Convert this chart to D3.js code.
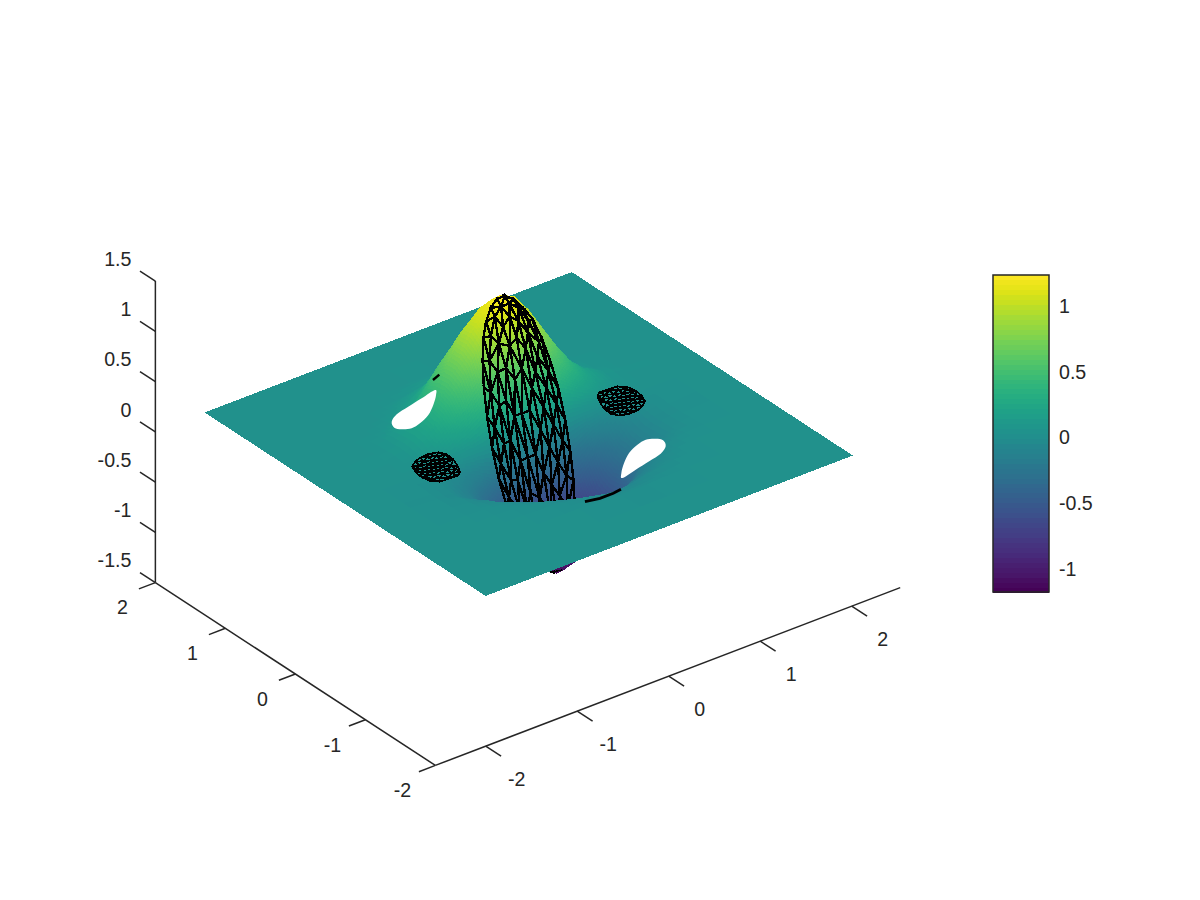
<!DOCTYPE html>
<html>
<head>
<meta charset="utf-8">
<script src="https://cdn.jsdelivr.net/npm/d3@7"></script>
<style>
  body { margin: 0; background: #fff; }
  text { font-family: "Liberation Sans", sans-serif; font-size: 19.6px; fill: #262626; }
</style>
</head>
<body>
<div id="chart"></div>
<script>
// surface heights, half sheet y>=0
// (the other half is the same sheet turned through the origin with the sign flipped)
const gridX = [-2, -1.6, -1.3, -1.1, -.9, -.75, -.6, -.45, -.3, -.15, 0, .15, .3, .45, .6, .75, .9, 1.1, 1.3, 1.6, 2];
const gridY = [0, .1, .2, .3, .4, .5, .6, .7, .8, .95, 1.1, 1.3, 1.6, 2];
const gridZ = [
  [0, 0, 0, 0, 0, 0, 0, 0, 0, 0, 0, 0, 0, 0, 0, 0, 0, 0, 0, 0, 0],
  [0, 0, .01, .02, .06, .12, .19, .29, .38, .45, .48, .45, .38, .29, .19, .12, .06, .02, .01, 0, 0],
  [0, 0, .01, .04, .11, .21, .35, .52, .69, .82, .87, .82, .69, .52, .35, .21, .11, .04, .01, 0, 0],
  [0, 0, .02, .05, .15, .27, .45, .67, .89, 1.05, 1.12, 1.05, .89, .67, .45, .27, .15, .05, .02, 0, 0],
  [0, 0, .02, .06, .16, .29, .49, .72, .95, 1.13, 1.2, 1.13, .95, .72, .49, .29, .16, .06, .02, 0, 0],
  [0, 0, .02, .05, .15, .28, .48, .72, .94, 1.08, 1.12, 1.02, .83, .60, .39, .23, .12, .04, .01, 0, 0],
  [0, 0, .01, .05, .13, .25, .44, .64, .82, .94, .95, .82, .65, .45, .28, .16, .08, .03, .01, 0, 0],
  [0, 0, .01, .03, .09, .18, .34, .52, .66, .73, .73, .60, .45, .31, .18, .10, .05, .02, .01, 0, 0],
  [0, 0, 0, .01, .05, .10, .20, .36, .48, .52, .51, .40, .29, .19, .11, .06, .03, .01, 0, 0, 0],
  [0, 0, 0, 0, .02, .05, .10, .16, .23, .26, .25, .18, .12, .08, .04, .02, .01, 0, 0, 0, 0],
  [0, 0, 0, 0, .01, .02, .04, .06, .09, .11, .10, .07, .04, .03, .01, .01, 0, 0, 0, 0, 0],
  [0, 0, 0, 0, 0, 0, .01, .01, .02, .02, .02, .01, .01, 0, 0, 0, 0, 0, 0, 0, 0],
  [0, 0, 0, 0, 0, 0, 0, 0, 0, 0, 0, 0, 0, 0, 0, 0, 0, 0, 0, 0, 0],
  [0, 0, 0, 0, 0, 0, 0, 0, 0, 0, 0, 0, 0, 0, 0, 0, 0, 0, 0, 0, 0]
];

const xTicks = [-2, -1, 0, 1, 2];
const yTicks = [-2, -1, 0, 1, 2];
const zTicks = [-1.5, -1, -0.5, 0, 0.5, 1, 1.5];
const barTicks = [-1, -0.5, 0, 0.5, 1];
const xLim = [-2.55, 2.53];
const yLim = [-2, 2];
const zLim = [-1.5, 1.5];
const colorLim = [-1.205, 1.205];

// wire mesh on the central disc
const meshRadius = [.4, .34, .27, .2, .13, .06];
const meshCount = [30, 24, 20, 15, 9, 4];

// small mesh patch on the flat sheet, the other one is its mirror through the origin
const patchOutline = [
  [-1.147, .164], [-1.076, .218], [-.999, .247], [-.903, .254], [-.816, .224],
  [-.779, .153], [-.787, .049], [-.824, -.062], [-.871, -.157], [-.925, -.203],
  [-1.010, -.195], [-1.115, -.190], [-1.176, -.128], [-1.194, -.033], [-1.183, .068]
];
const patchGridX = [-1.15, -1.08, -1.01, -.94, -.87, -.8];
const patchGridY = [-.17, -.1, -.03, .04, .11, .18];

// holes in the sheet
const holeOutline = [
  [-.181, 1.102], [-.227, 1.027], [-.351, .904], [-.491, .792], [-.636, .722], [-.746, .697],
  [-.825, .736], [-.859, .797], [-.814, .893], [-.701, .969], [-.542, 1.013], [-.360, 1.058]
];

// bits of hidden mesh poking through the sheet
const sliverA = [[-.09, 1.25], [.01, 1.29]];
const sliverB = [[-.327, -1.231], [-.188, -1.263], [-.043, -1.265], [.052, -1.25]];

const width = 1200, height = 900;
const svg = d3.select("#chart").append("svg")
  .attr("width", width).attr("height", height)
  .style("display", "block");

// oblique projection built from one linear scale per data axis and screen axis
const xToH = d3.scaleLinear().domain([0, 1]).range([0, 91.5]);
const xToV = d3.scaleLinear().domain([0, 1]).range([0, -35]);
const yToH = d3.scaleLinear().domain([0, 1]).range([0, -70]);
const yToV = d3.scaleLinear().domain([0, 1]).range([0, -45.7]);
const zToV = d3.scaleLinear().domain([0, 1]).range([0, -100.5]);
const originH = 528.7, originV = 434;

const project = (x, y, z) => [
  originH + xToH(x) + yToH(y),
  originV + xToV(x) + yToV(y) + zToV(z)
];
const groundDepth = (x, y) => originV + xToV(x) + yToV(y);

const color = d3.scaleSequential(d3.interpolateViridis).domain(colorLim);

function zAt(x, y) {
  if (y < 0) return -zAt(-x, -y);
  const i = Math.max(1, Math.min(d3.bisectRight(gridX, x), gridX.length - 1));
  const j = Math.max(1, Math.min(d3.bisectRight(gridY, y), gridY.length - 1));
  const tx = (x - gridX[i - 1]) / (gridX[i] - gridX[i - 1]);
  const ty = (y - gridY[j - 1]) / (gridY[j] - gridY[j - 1]);
  const low = gridZ[j - 1][i - 1] * (1 - tx) + gridZ[j - 1][i] * tx;
  const high = gridZ[j][i - 1] * (1 - tx) + gridZ[j][i] * tx;
  return low * (1 - ty) + high * ty;
}

// ---- surface cells, split finer where the height changes fast
const allY = [...gridY.slice(1).map(d => -d).reverse(), ...gridY];
const cells = [];
d3.pairs(gridX).forEach(([x0, x1]) => {
  d3.pairs(allY).forEach(([y0, y1]) => {
    const zs = [zAt(x0, y0), zAt(x1, y0), zAt(x0, y1), zAt(x1, y1)];
    const span = d3.max(zs) - d3.min(zs);
    const n = Math.max(1, Math.min(8, Math.ceil(span / .03)));
    for (let a = 0; a < n; a++) {
      for (let b = 0; b < n; b++) {
        const xa = x0 + (x1 - x0) * a / n, xb = x0 + (x1 - x0) * (a + 1) / n;
        const ya = y0 + (y1 - y0) * b / n, yb = y0 + (y1 - y0) * (b + 1) / n;
        const c = [[xa, ya], [xb, ya], [xb, yb], [xa, yb]];
        const cz = c.map(p => zAt(p[0], p[1]));
        cells.push({
          points: c.map((p, k) => project(p[0], p[1], cz[k]).join(",")).join(" "),
          fill: color(d3.mean(cz)),
          depth: groundDepth((xa + xb) / 2, (ya + yb) / 2)
        });
      }
    }
  });
});
cells.sort((a, b) => d3.ascending(a.depth, b.depth));

// ---- wire mesh on the disc
const meshPoints = [];
meshRadius.forEach((r, i) => {
  d3.range(meshCount[i]).forEach(k => {
    const t = 2 * Math.PI * (k + (i % 2) * .5) / meshCount[i];
    meshPoints.push([r * Math.cos(t), r * Math.sin(t)]);
  });
});

function meshPath(points, zOf) {
  const tri = d3.Delaunay.from(points).triangles;
  const path = d3.path();
  for (let i = 0; i < tri.length; i += 3) {
    const [p, q, r] = [points[tri[i]], points[tri[i + 1]], points[tri[i + 2]]];
    const [a, b, c] = [p, q, r].map(d => project(d[0], d[1], zOf(d)));
    path.moveTo(a[0], a[1]);
    path.lineTo(b[0], b[1]);
    path.lineTo(c[0], c[1]);
    path.closePath();
  }
  return path.toString();
}

const meshNear = d3.max(meshPoints, d => groundDepth(d[0], d[1]));

const drawCells = (data) => svg.append("g").attr("shape-rendering", "crispEdges")
  .selectAll("polygon")
  .data(data)
  .join("polygon")
  .attr("points", d => d.points)
  .attr("fill", d => d.fill)
  .attr("stroke", d => d.fill)
  .attr("stroke-width", 1);

drawCells(cells.filter(d => d.depth <= meshNear));

svg.append("path")
  .attr("d", meshPath(meshPoints, d => zAt(d[0], d[1])))
  .attr("fill", "none")
  .attr("stroke", "#000")
  .attr("stroke-width", 2.4)
  .attr("shape-rendering", "crispEdges");

drawCells(cells.filter(d => d.depth > meshNear));

// ---- patches
const patchPoints = [...patchOutline];
patchGridX.forEach((x, i) => {
  patchGridY.forEach(y => {
    const p = [x, y + (i % 2) * .035];
    if (d3.polygonContains(patchOutline, p)) patchPoints.push(p);
  });
});
[1, -1].forEach(s => {
  svg.append("path")
    .attr("d", meshPath(patchPoints.map(p => [s * p[0], s * p[1]]), () => 0))
    .attr("fill", "none")
    .attr("stroke", "#000")
    .attr("stroke-width", 1.7)
    .attr("stroke-linejoin", "round")
    .attr("shape-rendering", "crispEdges");
});

// ---- holes and slivers
const toScreen = d3.line().x(d => project(d[0], d[1], 0)[0]).y(d => project(d[0], d[1], 0)[1]);
[1, -1].forEach(s => {
  svg.append("path")
    .attr("d", toScreen.curve(d3.curveCardinalClosed)(holeOutline.map(p => [s * p[0], s * p[1]])))
    .attr("fill", "#fff");
});
toScreen.curve(d3.curveLinear);
svg.append("path").attr("d", toScreen(sliverA))
  .attr("fill", "none").attr("stroke", "#000").attr("stroke-width", 2.4);
svg.append("path").attr("d", toScreen(sliverB))
  .attr("fill", "none").attr("stroke", "#000").attr("stroke-width", 2.8);

// ---- 3d axes
const axisColor = "#262626";
const axes = svg.append("g").attr("stroke", axisColor).attr("stroke-width", 1.5).attr("fill", "none");
function seg(a, b) {
  axes.append("line")
    .attr("x1", a[0]).attr("y1", a[1])
    .attr("x2", b[0]).attr("y2", b[1]);
}
function label(p, txt, dx, dy, anchor) {
  svg.append("text")
    .attr("x", p[0] + dx).attr("y", p[1] + dy)
    .attr("dy", "0.35em")
    .attr("text-anchor", anchor)
    .text(txt);
}

seg(project(xLim[0], yLim[0], zLim[0]), project(xLim[1], yLim[0], zLim[0]));
seg(project(xLim[0], yLim[0], zLim[0]), project(xLim[0], yLim[1], zLim[0]));
seg(project(xLim[0], yLim[1], zLim[0]), project(xLim[0], yLim[1], zLim[1]));

xTicks.forEach(t => {
  const p = project(t, yLim[0], zLim[0]);
  seg(p, project(t, yLim[0] - .22, zLim[0]));
  label(p, t, 31, 33, "middle");
});
yTicks.forEach(t => {
  const p = project(xLim[0], t, zLim[0]);
  seg(p, project(xLim[0] - .18, t, zLim[0]));
  label(p, t, -33, 25, "middle");
});
zTicks.forEach(t => {
  const p = project(xLim[0], yLim[1], t);
  seg(p, project(xLim[0], yLim[1] + .22, t));
  label(p, t, -24, -22, "end");
});

// ---- colorbar
const barLeft = 993, barRight = 1049;
const barY = d3.scaleLinear().domain(colorLim).range([592, 275]);
const levels = d3.range(64).map(i => colorLim[0] + (colorLim[1] - colorLim[0]) * i / 64);
const levelStep = (colorLim[1] - colorLim[0]) / 64;
svg.append("g").attr("shape-rendering", "crispEdges")
  .selectAll("rect")
  .data(levels)
  .join("rect")
  .attr("x", barLeft).attr("width", barRight - barLeft)
  .attr("y", d => barY(d + levelStep))
  .attr("height", d => barY(d) - barY(d + levelStep) + .5)
  .attr("fill", d => color(d + levelStep / 2));

svg.append("rect")
  .attr("x", barLeft).attr("y", barY(colorLim[1]))
  .attr("width", barRight - barLeft).attr("height", barY(colorLim[0]) - barY(colorLim[1]))
  .attr("fill", "none").attr("stroke", axisColor).attr("stroke-width", 1.5);

barTicks.forEach(t => {
  seg([barLeft, barY(t)], [barLeft + 3.5, barY(t)]);
  seg([barRight, barY(t)], [barRight - 3.5, barY(t)]);
  label([barRight, barY(t)], t, 10, 4, "start");
});
</script>
</body>
</html>
